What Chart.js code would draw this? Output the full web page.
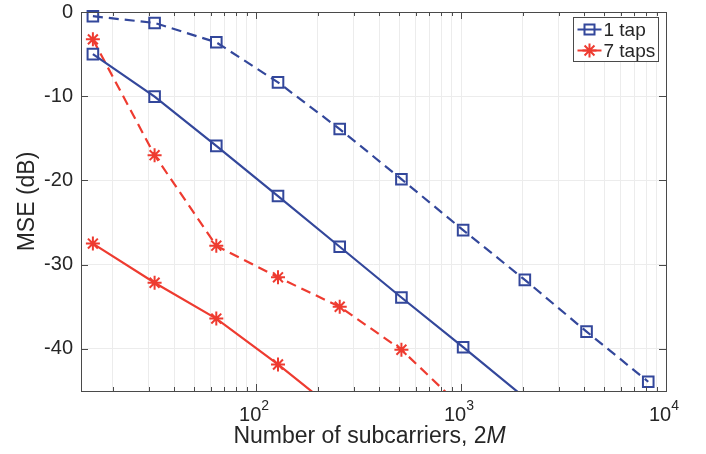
<!DOCTYPE html>
<html>
<head>
<meta charset="utf-8">
<script src="https://cdn.jsdelivr.net/npm/chart.js@4.4.1/dist/chart.umd.min.js"></script>
<style>
  html, body { margin: 0; padding: 0; background: #fff; }
  #wrap { width: 706px; height: 454px; }
</style>
</head>
<body>
<div id="wrap"><canvas id="chart" width="706" height="454"></canvas></div>
<script>
// number of subcarriers (2M) at each simulated point
var subcarriers = [16, 32, 64, 128, 256, 512, 1024, 2048, 4096, 8192];

// MSE in dB per curve, null where a curve has no point
var oneTapUpper   = [-0.5, -1.3, -3.6, -8.35, -13.9, -19.85, -25.9, -31.8, -37.95, -43.9];
var oneTapLower   = [-5.0, -10.05, -15.9, -21.85, -27.87, -33.9, -39.8, -45.8, null, null];
var sevenTapUpper = [-3.25, -17.0, -27.75, -31.5, -35.0, -40.1, -47.1, null, null, null];
var sevenTapLower = [-27.5, -32.15, -36.4, -41.85, -47.7, null, null, null, null, null];

var legendLabels = ["1 tap", "7 taps"];
var yTicks = [0, -10, -20, -30, -40];
var xDecades = [10, 100, 1000];
var xMajorTicks = [100, 1000, 10000];
var xTickExponents = ["2", "3", "4"];

var X_MIN = 14, X_MAX = 10000, Y_MIN = -45, Y_MAX = 0;
var BLUE = "#33479b";
var RED = "#ee3b30";
var AXIS = "#4a4a4a";
var TEXT = "#262626";
var FONT = "'Liberation Sans', Arial, Helvetica, sans-serif";

function toPoints(ys) {
    return subcarriers.map(function (x, i) { return {x: x, y: ys[i]}; })
        .filter(function (p) { return p.y !== null; });
}

// hide markers that fall below the axis, the line still runs to the edge
function markerRadius(r) {
    return function (ctx) {
        return ctx.raw && ctx.raw.y < Y_MIN ? 0 : r;
    };
}

function series(label, ys, color, dashed, style) {
    return {
        label: label,
        data: toPoints(ys),
        borderColor: color,
        borderWidth: 2.2,
        borderDash: dashed ? [10, 6] : [],
        pointStyle: style,
        pointRadius: markerRadius(style === "rect" ? 7.5 : 7),
        pointBorderWidth: 2,
        pointBorderColor: color,
        pointBackgroundColor: "rgba(0,0,0,0)",
        tension: 0,
        clip: {left: 12, top: 12, right: 12, bottom: 0}
    };
}

function xGridTicks() {
    var ticks = [];
    xDecades.forEach(function (d) {
        for (var m = 1; m <= 9; m++) {
            var v = d * m;
            if (v > X_MIN) ticks.push({value: v});
        }
    });
    ticks.push({value: X_MAX});
    return ticks;
}

// box, inward ticks, power-of-ten labels, x title and legend
var axesDecor = {
    id: "axesDecor",
    afterDraw: function (chart) {
        var ctx = chart.ctx, a = chart.chartArea;
        var xs = chart.scales.x, ys = chart.scales.y;
        ctx.save();

        ctx.strokeStyle = AXIS;
        ctx.lineWidth = 1;
        ctx.beginPath();
        xs.ticks.forEach(function (t) {
            var px = Math.round(xs.getPixelForValue(t.value)) + 0.5;
            var len = xMajorTicks.indexOf(t.value) >= 0 ? 7 : 4;
            ctx.moveTo(px, a.bottom); ctx.lineTo(px, a.bottom - len);
            ctx.moveTo(px, a.top); ctx.lineTo(px, a.top + len);
        });
        ys.ticks.forEach(function (t) {
            var py = Math.round(ys.getPixelForValue(t.value)) + 0.5;
            ctx.moveTo(a.left, py); ctx.lineTo(a.left + 7, py);
            ctx.moveTo(a.right, py); ctx.lineTo(a.right - 7, py);
        });
        ctx.stroke();
        ctx.strokeRect(Math.round(a.left) + 0.5, Math.round(a.top) + 0.5,
            Math.round(a.right - a.left), Math.round(a.bottom - a.top));

        // 10^n tick labels
        ctx.fillStyle = TEXT;
        ctx.textBaseline = "alphabetic";
        ctx.textAlign = "left";
        xMajorTicks.forEach(function (v, i) {
            var px = xs.getPixelForValue(v);
            ctx.font = "20px " + FONT;
            var w1 = ctx.measureText("10").width;
            ctx.font = "14px " + FONT;
            var w2 = ctx.measureText(xTickExponents[i]).width;
            var x0 = px - (w1 + w2) / 2 - 2;
            ctx.font = "20px " + FONT;
            ctx.fillText("10", x0, a.bottom + 30);
            ctx.font = "14px " + FONT;
            ctx.fillText(xTickExponents[i], x0 + w1, a.bottom + 19);
        });

        // x axis title with italic M
        var part1 = "Number of subcarriers, 2", part2 = "M";
        ctx.font = "23px " + FONT;
        var t1 = ctx.measureText(part1).width;
        ctx.font = "italic 23px " + FONT;
        var t2 = ctx.measureText(part2).width;
        var tx = (a.left + a.right) / 2 - 4 - (t1 + t2) / 2;
        ctx.font = "23px " + FONT;
        ctx.fillText(part1, tx, a.bottom + 52);
        ctx.font = "italic 23px " + FONT;
        ctx.fillText(part2, tx + t1, a.bottom + 52);

        // legend
        var bw = 85, bh = 44;
        var bx = Math.round(a.right - 8 - bw) + 0.5, by = Math.round(a.top + 5) + 0.5;
        ctx.fillStyle = "#fff";
        ctx.fillRect(bx, by, bw, bh);
        ctx.strokeStyle = AXIS;
        ctx.lineWidth = 1;
        ctx.strokeRect(bx, by, bw, bh);
        var rows = [
            {label: legendLabels[0], color: BLUE, style: "rect"},
            {label: legendLabels[1], color: RED, style: "star"}
        ];
        rows.forEach(function (r, i) {
            var cy = by + 12 + i * 21;
            ctx.strokeStyle = r.color;
            ctx.lineWidth = 2;
            ctx.beginPath();
            ctx.moveTo(bx + 4, cy); ctx.lineTo(bx + 28, cy);
            ctx.stroke();
            var mx = bx + 16;
            ctx.beginPath();
            if (r.style === "rect") {
                ctx.rect(mx - 5, cy - 5, 10, 10);
            } else {
                for (var k = 0; k < 4; k++) {
                    var ang = k * Math.PI / 4;
                    ctx.moveTo(mx - Math.cos(ang) * 7, cy - Math.sin(ang) * 7);
                    ctx.lineTo(mx + Math.cos(ang) * 7, cy + Math.sin(ang) * 7);
                }
            }
            ctx.stroke();
            ctx.fillStyle = TEXT;
            ctx.font = "19px " + FONT;
            ctx.textBaseline = "middle";
            ctx.fillText(r.label, bx + 30, cy + 1);
        });
        ctx.restore();
    }
};

new Chart("chart", {
    type: "line",
    data: {
        datasets: [
            series(legendLabels[0], oneTapUpper, BLUE, true, "rect"),
            series(legendLabels[0], oneTapLower, BLUE, false, "rect"),
            series(legendLabels[1], sevenTapUpper, RED, true, "star"),
            series(legendLabels[1], sevenTapLower, RED, false, "star")
        ]
    },
    options: {
        responsive: false,
        animation: false,
        devicePixelRatio: 1,
        layout: {padding: {left: 0, right: 40, top: 0, bottom: 0}},
        plugins: {
            legend: {display: false},
            tooltip: {enabled: false}
        },
        scales: {
            x: {
                type: "logarithmic",
                min: X_MIN,
                max: X_MAX,
                afterBuildTicks: function (s) { s.ticks = xGridTicks(); },
                afterFit: function (s) { s.height = 63; },
                ticks: {display: false},
                grid: {color: "#ececec", drawTicks: false},
                border: {display: false}
            },
            y: {
                type: "linear",
                min: Y_MIN,
                max: Y_MAX,
                afterBuildTicks: function (s) {
                    s.ticks = yTicks.map(function (v) { return {value: v}; });
                },
                afterFit: function (s) {
                    s.width = 81;
                    s.paddingTop = 12;
                },
                ticks: {padding: 8, color: TEXT, font: {family: FONT, size: 20}},
                grid: {color: "#ececec", drawTicks: false},
                border: {display: false},
                title: {
                    display: true,
                    text: "MSE (dB)",
                    color: TEXT,
                    font: {family: FONT, size: 23},
                    padding: {top: 14, bottom: 0}
                }
            }
        }
    },
    plugins: [axesDecor]
});
</script>
</body>
</html>
